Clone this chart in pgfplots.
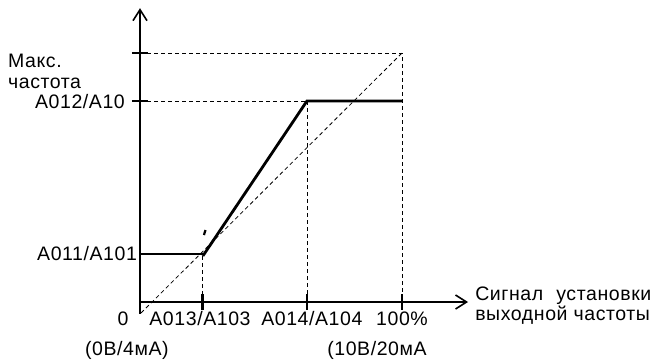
\documentclass[border=0pt]{standalone}
\usepackage{pgfplots}
\pgfplotsset{compat=1.18}
\usepackage{fontspec}
\setmainfont{Liberation Sans}[LetterSpace=3]
\usetikzlibrary{arrows.meta}
\begin{document}
\begin{tikzpicture}[font=\fontsize{19.5bp}{22bp}\selectfont]
\begin{axis}[name=ax, hide axis, scale only axis, clip=false,
  x=2.62bp, y=2.49bp,
  xmin=-53.435, xmax=196.18, ymin=-22.89, ymax=121.29,
]
% axes
\addplot[black, line width=1.6bp, -{Straight Barb[length=11bp,width=14bp,line width=1.6bp]}] coordinates {(0,-4.8) (0,118)};
\addplot[black, line width=1.6bp, -{Straight Barb[length=11bp,width=14bp,line width=1.6bp]}] coordinates {(0,0) (125.2,0)};
% dashed guides
\addplot[black, line width=0.8bp, dash pattern=on 4bp off 3bp] coordinates {(0,100) (100,100) (100,0)};
\addplot[black, line width=0.8bp, dash pattern=on 4bp off 3bp] coordinates {(0,80.7) (63.7,80.7)};
\addplot[black, line width=0.8bp, dash pattern=on 4bp off 3bp] coordinates {(63.7,80.7) (63.7,0)};
\addplot[black, line width=0.8bp, dash pattern=on 4bp off 3bp] coordinates {(24,18.5) (24,0)};
\addplot[black, line width=0.8bp, dash pattern=on 4bp off 3bp] coordinates {(0.4,-4.4) (100,100)};
% characteristic
\addplot[black, line width=2.8bp] coordinates {(0,0) (0,19.3) (24,19.3)};
\addplot[black, line width=2.8bp] coordinates {(24,18.5) (63.7,80.7) (100,80.7)};
\addplot[black, line width=2.2bp] coordinates {(24.4,26.9) (25.0,28.9)};
% ticks
\addplot[black, line width=2.8bp] coordinates {(-3.1,100) (3.1,100)};
\addplot[black, line width=2.8bp] coordinates {(-3.1,80.7) (3.1,80.7)};
\addplot[black, line width=2.8bp] coordinates {(24,-3.2) (24,3.2)};
\addplot[black, line width=2.8bp] coordinates {(63.7,-3.2) (63.7,3.2)};
\addplot[black, line width=2.8bp] coordinates {(100,-3.2) (100,3.2)};
% labels
\node[anchor=base, inner sep=0pt] at (axis cs:-15.3,123.3) {(Выходная частота)};
\node[anchor=base west, inner sep=0pt] at (axis cs:-50.4,94.0) {Макс.};
\node[anchor=base west, inner sep=0pt] at (axis cs:-50.4,85.9) {частота};
\node[anchor=base east, inner sep=0pt] at (axis cs:-5.7,77.9) {A012/A10};
\node[anchor=base east, inner sep=0pt] at (axis cs:-1.1,16.5) {A011/A101};
\node[anchor=base, inner sep=0pt] at (axis cs:-6.5,-9.6) {0};
\node[anchor=base, inner sep=0pt] at (axis cs:22.9,-9.6) {A013/A103};
\node[anchor=base, inner sep=0pt] at (axis cs:65.6,-9.6) {A014/A104};
\node[anchor=base, inner sep=0pt] at (axis cs:100,-9.6) {100\%};
\node[anchor=base, inner sep=0pt] at (axis cs:-5,-21.3) {(0В/4мА)};
\node[anchor=base west, inner sep=0pt] at (axis cs:71.4,-21.3) {(10В/20мА};
\node[anchor=base west, inner sep=0pt] at (axis cs:127.9,0.8) {\makebox[176bp][s]{Сигнал\hfill установки}};
\node[anchor=base west, inner sep=0pt] at (axis cs:127.9,-7.6) {выходной частоты};
\end{axis}
\pgfresetboundingbox
\useasboundingbox (ax.south west) rectangle (ax.north east);
\end{tikzpicture}
\end{document}
